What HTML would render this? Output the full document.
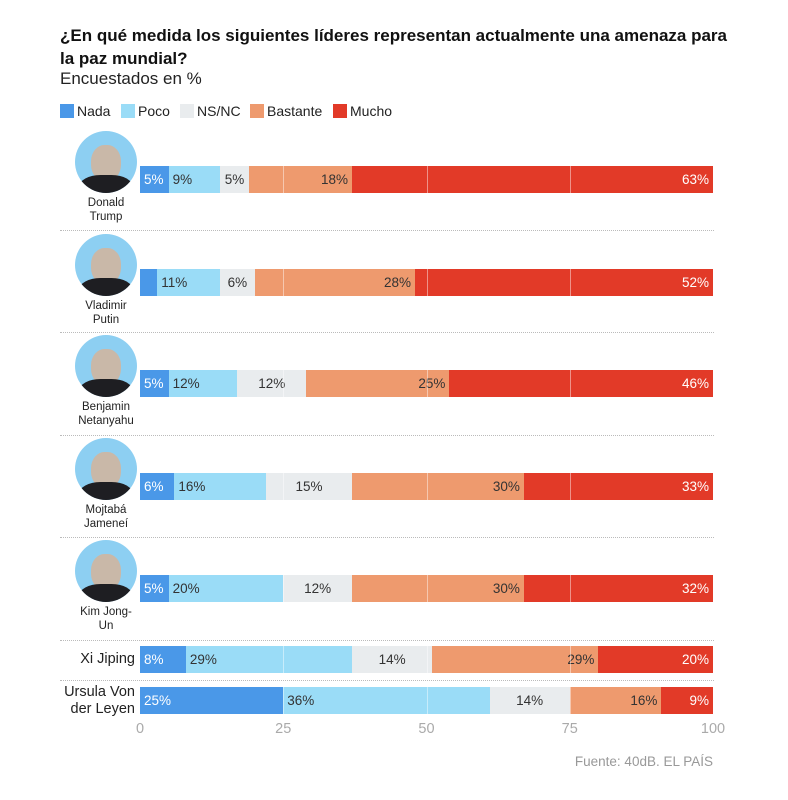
<!DOCTYPE html>
<html><head><meta charset="utf-8"><style>
body{margin:0;width:788px;height:800px;background:#fff;font-family:"Liberation Sans",sans-serif;position:relative;overflow:hidden}
.a{position:absolute}
.t{left:60px;top:24px;font-weight:bold;font-size:17px;line-height:23px;color:#111;width:672px}
.s{left:60px;top:69px;font-size:17px;color:#222}
.lg{top:103px;font-size:14px;color:#222}
.sw{display:inline-block;width:14px;height:14px;vertical-align:-2px;margin-right:3px}
.seg{position:absolute;height:27px;font-size:13.5px;line-height:27px;box-sizing:border-box;padding:0 4px;white-space:nowrap;overflow:visible}
.nm{font-size:11.5px;text-align:center;line-height:14px;color:#222;width:80px}
.sep{left:60px;width:654px;border-top:1px dotted #bbb;height:0}
.av{width:62px;height:62px;border-radius:50%;background:#8dcff2;overflow:hidden}
</style></head><body>
<div class="a t">¿En qué medida los siguientes líderes representan actualmente una amenaza para la paz mundial?</div>
<div class="a s">Encuestados en %</div>
<div class="a lg" style="left:60px"><span class="sw" style="background:#4a98e8"></span>Nada</div>
<div class="a lg" style="left:121px"><span class="sw" style="background:#9adcf7"></span>Poco</div>
<div class="a lg" style="left:180px"><span class="sw" style="background:#e9ecee"></span>NS/NC</div>
<div class="a lg" style="left:250px"><span class="sw" style="background:#ee9a6e"></span>Bastante</div>
<div class="a lg" style="left:333px"><span class="sw" style="background:#e23a28"></span>Mucho</div>
<div id="c"></div>
<div class="a" style="left:513px;width:200px;text-align:right;top:754px;font-size:13.5px;color:#999">Fuente: 40dB. EL PAÍS</div>
<script>
const C=["#4a98e8","#9adcf7","#e9ecee","#ee9a6e","#e23a28"];
const rows=[
[166,[5,9,5,18,63],"Donald<br>Trump",1],
[269,[3,11,6,28,52],"Vladimir<br>Putin",1],
[370,[5,12,12,25,46],"Benjamin<br>Netanyahu",1],
[473,[6,16,15,30,33],"Mojtabá<br>Jameneí",1],
[575,[5,20,12,30,33],"Kim Jong-<br>Un",1],
[646,[8,29,14,29,20],"Xi Jiping",0],
[687,[25,36,14,16,9],"Ursula Von<br>der Leyen",0]];
const lbl=[[5,9,5,18,63],[3,11,6,28,52],[5,12,12,25,46],[6,16,15,30,33],[5,20,12,30,32],[8,29,14,29,20],[25,36,14,16,9]];
let h="";const X0=140,W=573;
rows.forEach((r,i)=>{
 let [y,v,n,av]=r,acc=0;
 v.forEach((p,k)=>{
  let x=X0+acc*W/100,w=p*W/100;acc+=p;
  let al=k<2?"left":(k==2?"center":"right");
  let col=(k==0||k==4)?"#fff":"#333";
  let lab=(i==1&&k==0)?"":lbl[i][k]+"%";
  h+=`<div class="seg" style="left:${x}px;top:${y}px;width:${w}px;background:${C[k]};color:${col};text-align:${al}">${lab}</div>`;
 });
 [25,50,75].forEach(g=>h+=`<div class="a" style="left:${X0+g*W/100}px;top:${y}px;width:1px;height:27px;background:rgba(255,255,255,.45)"></div>`);
 if(av){
  h+=`<div class="a av" style="left:75px;top:${y-35}px"><div class="a" style="left:16px;top:14px;width:30px;height:36px;border-radius:45%;background:#c9b8a8"></div><div class="a" style="left:4px;top:44px;width:54px;height:30px;border-radius:40% 40% 0 0;background:#1e1e22"></div></div>`;
  h+=`<div class="a nm" style="left:66px;top:${y+30}px">${n}</div>`;
 } else {
  h+=`<div class="a" style="left:40px;width:95px;text-align:right;font-size:14.5px;line-height:17px;color:#222;top:${y+(i==5?5:-3)}px">${n}</div>`;
 }
});
[230,332,435,537,640,680].forEach(y=>h+=`<div class="a sep" style="top:${y}px"></div>`);
[0,25,50,75,100].forEach(t=>h+=`<div class="a" style="left:${X0+t*W/100-20}px;width:40px;text-align:center;top:721px;font-size:14.5px;color:#aaa">${t}</div>`);
document.getElementById("c").innerHTML=h;
</script>
</body></html>
